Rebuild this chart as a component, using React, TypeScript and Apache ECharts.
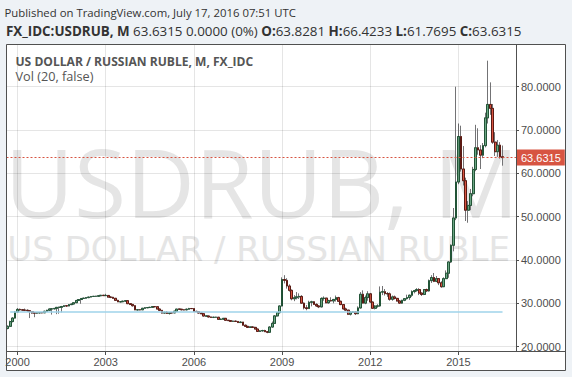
import { useEffect, useRef } from "react";
import * as echarts from "echarts";

// ---------- data (monthly [open, high, low, close]) ----------
const ohlc1999 = [ // Sep - Dec
  [24.2, 24.9, 24.0, 24.7],
  [24.7, 26.0, 24.5, 25.8],
  [25.8, 26.8, 25.6, 26.6],
  [26.6, 28.2, 26.5, 28.0],
];
const ohlc2000 = [
  [28.0, 28.9, 27.8, 28.6], [28.6, 28.8, 28.3, 28.5], [28.5, 28.7, 28.3, 28.45], [28.45, 28.8, 28.2, 28.4],
  [28.4, 28.6, 28.0, 28.3], [28.3, 28.4, 26.6, 28.1], [28.1, 28.2, 27.6, 27.8], [27.8, 27.9, 26.8, 27.75],
  [27.75, 27.9, 27.6, 27.8], [27.8, 27.95, 27.7, 27.85], [27.85, 27.95, 27.7, 27.82], [27.82, 28.3, 27.8, 28.16],
];
const ohlc2001 = [
  [28.16, 28.5, 28.1, 28.4], [28.4, 28.8, 28.3, 28.7], [28.7, 28.8, 27.4, 28.73], [28.73, 28.9, 28.6, 28.83],
  [28.83, 29.1, 27.5, 29.07], [29.07, 29.2, 27.6, 29.09], [29.09, 29.4, 27.9, 29.27], [29.27, 29.5, 29.2, 29.44],
  [29.44, 29.6, 29.2, 29.39], [29.39, 29.8, 29.35, 29.7], [29.7, 29.9, 29.6, 29.84], [29.84, 30.2, 29.8, 30.14],
];
const ohlc2002 = [
  [30.14, 30.8, 30.1, 30.66], [30.66, 30.9, 30.6, 30.88], [30.88, 31.2, 29.9, 31.12], [31.12, 31.3, 31.0, 31.19],
  [31.19, 31.4, 31.1, 31.32], [31.32, 31.5, 31.2, 31.45], [31.45, 31.7, 31.4, 31.58], [31.58, 31.7, 31.5, 31.62],
  [31.62, 31.7, 31.5, 31.64], [31.64, 31.8, 31.6, 31.74], [31.74, 31.9, 31.7, 31.86], [31.86, 31.95, 31.7, 31.78],
];
const ohlc2003 = [
  [31.78, 32.2, 31.7, 31.82], [31.82, 31.9, 31.3, 31.45], [31.45, 31.6, 31.2, 31.39], [31.39, 31.5, 31.1, 31.16],
  [31.16, 31.2, 30.6, 30.69], [30.69, 30.8, 30.3, 30.35], [30.35, 30.5, 30.2, 30.37], [30.37, 30.6, 30.3, 30.5],
  [30.5, 30.7, 30.4, 30.61], [30.61, 30.65, 29.85, 29.92], [29.92, 30.0, 29.6, 29.75], [29.75, 29.8, 29.25, 29.45],
];
const ohlc2004 = [
  [29.45, 29.5, 28.45, 28.49], [28.49, 28.6, 28.4, 28.52], [28.52, 28.6, 28.4, 28.51], [28.51, 28.9, 28.5, 28.86],
  [28.86, 29.1, 28.8, 28.98], [28.98, 29.1, 28.9, 29.03], [29.03, 29.2, 29.0, 29.08], [29.08, 29.3, 29.0, 29.24],
  [29.24, 29.3, 29.1, 29.22], [29.22, 29.25, 28.6, 28.69], [28.69, 28.75, 28.3, 28.38], [28.38, 28.4, 27.7, 27.75],
];
const ohlc2005 = [
  [27.75, 28.1, 27.7, 27.93], [27.93, 28.2, 27.6, 27.67], [27.67, 27.9, 27.4, 27.83], [27.83, 27.95, 27.7, 27.8],
  [27.8, 28.3, 27.75, 28.18], [28.18, 28.7, 28.1, 28.67], [28.67, 28.8, 28.5, 28.64], [28.64, 28.7, 28.4, 28.51],
  [28.51, 28.6, 28.4, 28.5], [28.5, 28.8, 28.4, 28.64], [28.64, 28.95, 28.6, 28.81], [28.81, 28.9, 28.7, 28.78],
];
const ohlc2006 = [
  [28.78, 28.8, 28.1, 28.14], [28.14, 28.3, 28.0, 28.09], [28.09, 28.1, 27.7, 27.76], [27.76, 27.8, 27.5, 27.6],
  [27.6, 27.65, 27.0, 27.07], [27.07, 27.2, 26.9, 27.08], [27.08, 27.1, 26.8, 26.85], [26.85, 26.9, 26.7, 26.76],
  [26.76, 26.9, 26.6, 26.78], [26.78, 26.9, 26.7, 26.79], [26.79, 26.8, 26.3, 26.31], [26.31, 26.4, 26.2, 26.33],
];
const ohlc2007 = [
  [26.33, 26.6, 26.3, 26.54], [26.54, 26.6, 26.0, 26.09], [26.09, 26.2, 25.95, 26.01], [26.01, 26.05, 25.7, 25.84],
  [25.84, 26.0, 25.7, 25.89], [25.89, 26.0, 25.75, 25.82], [25.82, 25.85, 25.5, 25.56], [25.56, 25.9, 25.5, 25.67],
  [25.67, 25.7, 24.9, 24.95], [24.95, 25.1, 24.6, 24.69], [24.69, 24.8, 24.3, 24.44], [24.44, 24.7, 24.35, 24.55],
];
const ohlc2008 = [
  [24.55, 24.7, 24.3, 24.45], [24.45, 24.6, 24.0, 24.07], [24.07, 24.1, 23.45, 23.52], [23.52, 23.8, 23.4, 23.64],
  [23.64, 23.9, 23.5, 23.73], [23.73, 23.9, 23.4, 23.45], [23.45, 23.5, 23.1, 23.33], [23.33, 24.7, 23.2, 24.53],
  [24.53, 25.8, 24.4, 25.37], [25.37, 27.3, 25.3, 27.1], [27.1, 27.9, 26.9, 27.86], [27.86, 29.5, 27.6, 29.39],
];
const ohlc2009 = [
  [29.39, 36.0, 29.3, 35.5], [35.5, 36.5, 34.6, 35.3], [35.3, 35.8, 33.4, 34.0], [34.0, 34.4, 32.7, 33.0],
  [33.0, 33.2, 30.7, 31.05], [31.05, 31.9, 30.5, 31.29], [31.29, 32.6, 30.9, 31.51], [31.51, 32.3, 31.0, 31.59],
  [31.59, 31.9, 29.9, 30.04], [30.04, 30.2, 28.6, 28.97], [28.97, 29.6, 28.4, 28.8], [28.8, 30.6, 28.7, 30.24],
];
const ohlc2010 = [
  [30.24, 30.6, 29.3, 30.35], [30.35, 30.5, 29.7, 29.76], [29.76, 30.0, 29.2, 29.4], [29.4, 29.6, 28.9, 29.18],
  [29.18, 31.4, 29.1, 31.12], [31.12, 31.6, 30.6, 31.2], [31.2, 31.3, 30.0, 30.14], [30.14, 30.8, 29.9, 30.66],
  [30.66, 31.4, 30.4, 30.55], [30.55, 31.0, 30.0, 30.9], [30.9, 31.8, 30.4, 31.32], [31.32, 31.5, 30.3, 30.48],
];
const ohlc2011 = [
  [30.48, 30.6, 29.6, 29.71], [29.71, 29.8, 28.6, 28.71], [28.71, 29.0, 28.3, 28.43], [28.43, 28.5, 27.3, 27.51],
  [27.51, 28.2, 27.2, 27.96], [27.96, 28.2, 27.8, 28.01], [28.01, 28.2, 27.3, 27.61], [27.61, 29.3, 27.5, 28.94],
  [28.94, 32.6, 28.8, 32.09], [32.09, 33.0, 30.0, 30.05], [30.05, 31.8, 29.8, 31.33], [31.33, 32.8, 30.6, 32.19],
];
const ohlc2012 = [
  [32.19, 32.4, 30.2, 30.3], [30.3, 30.4, 28.8, 28.86], [28.86, 29.6, 28.6, 29.35], [29.35, 29.8, 29.0, 29.41],
  [29.41, 33.9, 29.2, 32.59], [32.59, 34.0, 31.9, 32.68], [32.68, 33.3, 31.8, 32.25], [32.25, 32.6, 31.5, 32.18],
  [32.18, 32.5, 30.6, 30.94], [30.94, 31.8, 30.6, 31.48], [31.48, 31.8, 30.9, 31.14], [31.14, 31.3, 30.4, 30.55],
];
const ohlc2013 = [
  [30.55, 30.7, 29.9, 30.05], [30.05, 30.8, 29.9, 30.71], [30.71, 31.2, 30.5, 31.08], [31.08, 32.0, 30.9, 31.33],
  [31.33, 32.0, 30.8, 31.87], [31.87, 33.0, 31.5, 32.71], [32.71, 33.1, 32.3, 32.94], [32.94, 33.5, 32.7, 33.17],
  [33.17, 33.5, 31.9, 32.37], [32.37, 32.5, 31.7, 32.05], [32.05, 33.3, 31.9, 33.18], [33.18, 33.4, 32.6, 32.87],
];
const ohlc2014 = [
  [32.87, 35.5, 32.7, 35.24], [35.24, 36.5, 34.7, 35.95], [35.95, 37.0, 34.9, 35.07], [35.07, 36.3, 34.9, 35.7],
  [35.7, 35.8, 34.2, 34.74], [34.74, 35.1, 33.6, 33.84], [33.84, 36.0, 33.8, 35.7], [35.7, 37.6, 35.6, 36.95],
  [36.95, 39.7, 35.9, 39.55], [39.55, 43.6, 39.3, 43.4], [43.4, 52.0, 42.0, 49.7], [49.7, 80.0, 49.2, 58.0],
];
const ohlc2015 = [
  [58.0, 71.5, 57.5, 68.5], [68.5, 71.0, 60.4, 61.0], [61.0, 66.3, 57.2, 58.3], [58.3, 59.0, 49.0, 51.5],
  [51.5, 53.6, 48.6, 52.6], [52.6, 56.4, 51.5, 55.3], [55.3, 61.5, 54.7, 60.9], [60.9, 71.2, 60.5, 65.9],
  [65.9, 70.4, 64.3, 65.4], [65.4, 66.5, 61.0, 64.2], [64.2, 67.0, 63.5, 66.4], [66.4, 74.0, 66.0, 72.8],
];
const ohlc2016 = [ // Jan - Jul
  [72.8, 86.0, 71.5, 75.9], [75.9, 81.0, 73.5, 75.0], [75.0, 76.0, 66.8, 67.2], [67.2, 69.5, 64.0, 65.0],
  [65.0, 67.7, 63.8, 66.5], [66.5, 67.2, 63.4, 63.83], [63.8281, 66.4233, 61.7695, 63.6315],
];

const firstYear = 1999;
const firstMonth = 9; // September
const categoryCount = 208; // Sep 1999 .. Dec 2016 (space after last bar)
const yearLabels = ["2000", "2003", "2006", "2009", "2012", "2015"];
const volMaLevel = 28.03;
const yMin = 19.0;
const yMax = 89.85;

const headerLine1 = "Published on TradingView.com, July 17, 2016 07:51 UTC";
const symbolText = "FX_IDC:USDRUB, M";
const changeText = "0.0000 (0%)";
const paneTitle = "US DOLLAR / RUSSIAN RUBLE, M, FX_IDC";
const volTitle = "Vol (20, false)";
const watermark1 = "USDRUB, M";
const watermark2 = "US DOLLAR / RUSSIAN RUBLE";

const UP = "#6ba583", DOWN = "#d75442", UP_B = "#225437", DOWN_B = "#5b1a13", WICK = "#737375";
const GRID = "rgba(0,0,0,0.1)";
const FRAME = "#505050";
const AXIS_TXT = "#4d4d4d";

export default function App() {
  const ref = useRef<HTMLDivElement>(null);
  useEffect(() => {
    if (!ref.current) return;
    const chart = echarts.init(ref.current, undefined, { renderer: "svg" });

    const all = [
      ...ohlc1999, ...ohlc2000, ...ohlc2001, ...ohlc2002, ...ohlc2003, ...ohlc2004, ...ohlc2005, ...ohlc2006,
      ...ohlc2007, ...ohlc2008, ...ohlc2009, ...ohlc2010, ...ohlc2011, ...ohlc2012, ...ohlc2013, ...ohlc2014,
      ...ohlc2015, ...ohlc2016,
    ];
    const cats: string[] = [];
    for (let i = 0; i < categoryCount; i++) {
      const k = firstMonth - 1 + i;
      cats.push(`${firstYear + Math.floor(k / 12)}-${String((k % 12) + 1).padStart(2, "0")}`);
    }
    const wickData = all.map((r) => [r[0], r[3], r[2], r[1]]);
    const bodyData = all.map((r) => [r[0], r[3], Math.min(r[0], r[3]), Math.max(r[0], r[3])]);
    const last = all[all.length - 1];
    const lastCat = cats[all.length - 1];

    // text fitting
    const cv = document.createElement("canvas").getContext("2d")!;
    const mw = (t: string, f: string) => { cv.font = f; return cv.measureText(t).width; };
    const fit = (t: string, weight: string, fam: string, target: number) =>
      (20 * target) / mw(t, `${weight} 20px ${fam}`);

    const fam = "'Open Sans'";
    const s1 = fit(headerLine1, "normal", fam, 292);
    const segs: [string, string][] = [
      ["b", symbolText], ["r", ` ${last[3].toFixed(4)} ${changeText} `],
      ["b", "O:"], ["r", `${last[0].toFixed(4)} `],
      ["b", "H:"], ["r", `${last[1].toFixed(4)} `],
      ["b", "L:"], ["r", `${last[2].toFixed(4)} `],
      ["b", "C:"], ["r", `${last[3].toFixed(4)}`],
    ];
    let w20 = 0;
    segs.forEach(([k, t]) => { w20 += mw(t, `${k === "b" ? "bold" : "normal"} 20px ${fam}`); });
    const s2 = (20 * 516) / w20;
    const sTitle = fit(paneTitle, "bold", fam, 238);
    const sVol = fit(volTitle, "normal", fam, 78);
    const sWm2 = fit(watermark2, "normal", "'DejaVu Sans'", 503);

    const markYears = yearLabels.map((y) => ({ xAxis: `${y}-01` }));
    const isYear = (_i: number, v: string) => v.endsWith("-01") && yearLabels.includes(v.slice(0, 4));

    chart.setOption({
      animation: false,
      backgroundColor: "#eef2f6",
      grid: { left: 6.5, right: 56, top: 44, bottom: 26, containLabel: false },
      xAxis: {
        type: "category",
        data: cats,
        boundaryGap: true,
        axisLine: { show: false },
        axisTick: { show: true, interval: isYear, alignWithLabel: true, length: 4, lineStyle: { color: FRAME } },
        axisLabel: {
          interval: isYear, formatter: (v: string) => v.slice(0, 4), margin: 5,
          fontSize: 11, fontFamily: "'Liberation Sans'", color: AXIS_TXT,
        },
        splitLine: { show: false },
      },
      yAxis: {
        type: "value",
        position: "right",
        min: yMin,
        max: yMax,
        splitNumber: 7,
        axisLine: { show: false },
        axisTick: { show: true, length: 3, lineStyle: { color: FRAME } },
        axisLabel: {
          formatter: (v: number) => v.toFixed(4), showMinLabel: false, showMaxLabel: false,
          margin: 5, fontSize: 11, fontFamily: "'Liberation Sans'", color: AXIS_TXT,
        },
        splitLine: { show: true, lineStyle: { color: GRID, width: 1 } },
      },
      series: [
        {
          name: "wick",
          type: "candlestick",
          data: wickData,
          barWidth: "92%",
          z: 2,
          itemStyle: { color: WICK, color0: WICK, borderColor: WICK, borderColor0: WICK, borderWidth: 1 },
          markLine: {
            silent: true,
            symbol: ["none", "none"],
            label: { show: false },
            data: [
              ...markYears.map((d) => ({ ...d, lineStyle: { color: GRID, width: 1, type: "solid" } })),
              [
                { coord: [cats[1], volMaLevel], lineStyle: { color: "#9fd3ea", width: 1.5, type: "solid" } },
                { coord: [lastCat, volMaLevel] },
              ],
            ],
          },
        },
        {
          name: "body",
          type: "candlestick",
          data: bodyData,
          barWidth: "92%",
          z: 3,
          itemStyle: { color: UP, color0: DOWN, borderColor: UP_B, borderColor0: DOWN_B, borderWidth: 1 },
          markLine: {
            silent: true,
            symbol: ["none", "none"],
            lineStyle: { color: DOWN, width: 1, type: [2, 2] },
            label: {
              show: true, position: "end", distance: 1, formatter: last[3].toFixed(4),
              color: "#fff", backgroundColor: DOWN, padding: [2, 4, 2, 4], lineHeight: 12,
              fontSize: 11, fontFamily: "'Liberation Sans'",
            },
            data: [{ yAxis: last[3] }],
          },
        },
      ],
      graphic: [
        { type: "rect", z: -10, shape: { x: 6.5, y: 44.5, width: 559, height: 326 }, style: { fill: "#ffffff" } },
        {
          type: "text", z: -5, x: 4.7, y: 181,
          style: { text: watermark1, font: `normal 95px ${fam}`, lineHeight: 68, fill: "#e5e5e5", textVerticalAlign: "middle" },
        },
        {
          type: "text", z: -5, x: 7.3, y: 248.7,
          style: { text: watermark2, font: `normal ${sWm2}px 'DejaVu Sans'`, lineHeight: 24, fill: "#e5e5e5", textVerticalAlign: "middle" },
        },
        { type: "rect", z: -4, shape: { x: 517, y: 45, width: 48, height: 306 }, style: { fill: "#ffffff" } },
        { type: "rect", z: 9, shape: { x: 517, y: 351.5, width: 48, height: 18.5 }, style: { fill: "#ffffff" } },
        // frame
        { type: "rect", z: 10, shape: { x: 6.5, y: 44.5, width: 559, height: 326 }, style: { fill: "none", stroke: FRAME, lineWidth: 1 } },
        { type: "line", z: 10, shape: { x1: 6.5, y1: 351.5, x2: 565.5, y2: 351.5 }, style: { stroke: FRAME, lineWidth: 1 } },
        { type: "line", z: 10, shape: { x1: 516.5, y1: 44.5, x2: 516.5, y2: 351.5 }, style: { stroke: FRAME, lineWidth: 1 } },
        // header texts
        {
          type: "text", z: 10, x: 4.5, y: 12.3,
          style: { text: headerLine1, font: `normal ${s1}px ${fam}`, fill: "#333", textVerticalAlign: "middle" },
        },
        {
          type: "text", z: 10, x: 6, y: 31.2,
          style: {
            text: segs.map(([k, t]) => `{${k}|${t}}`).join(""),
            rich: {
              b: { fontWeight: "bold", fontSize: s2, fontFamily: fam, fill: "#333" },
              r: { fontWeight: "normal", fontSize: s2, fontFamily: fam, fill: "#333" },
            },
            textVerticalAlign: "middle",
          },
        },
        {
          type: "text", z: 10, x: 15.5, y: 61.5,
          style: { text: paneTitle, font: `bold ${sTitle}px ${fam}`, lineHeight: 12, fill: "#555", textVerticalAlign: "middle" },
        },
        {
          type: "text", z: 10, x: 15.5, y: 76,
          style: { text: volTitle, font: `normal ${sVol}px ${fam}`, lineHeight: 12, fill: "#555", textVerticalAlign: "middle" },
        },
      ],
    });
    return () => chart.dispose();
  }, []);
  return <div ref={ref} style={{ position: "fixed", left: 0, top: 0, width: 572, height: 377 }} />;
}
